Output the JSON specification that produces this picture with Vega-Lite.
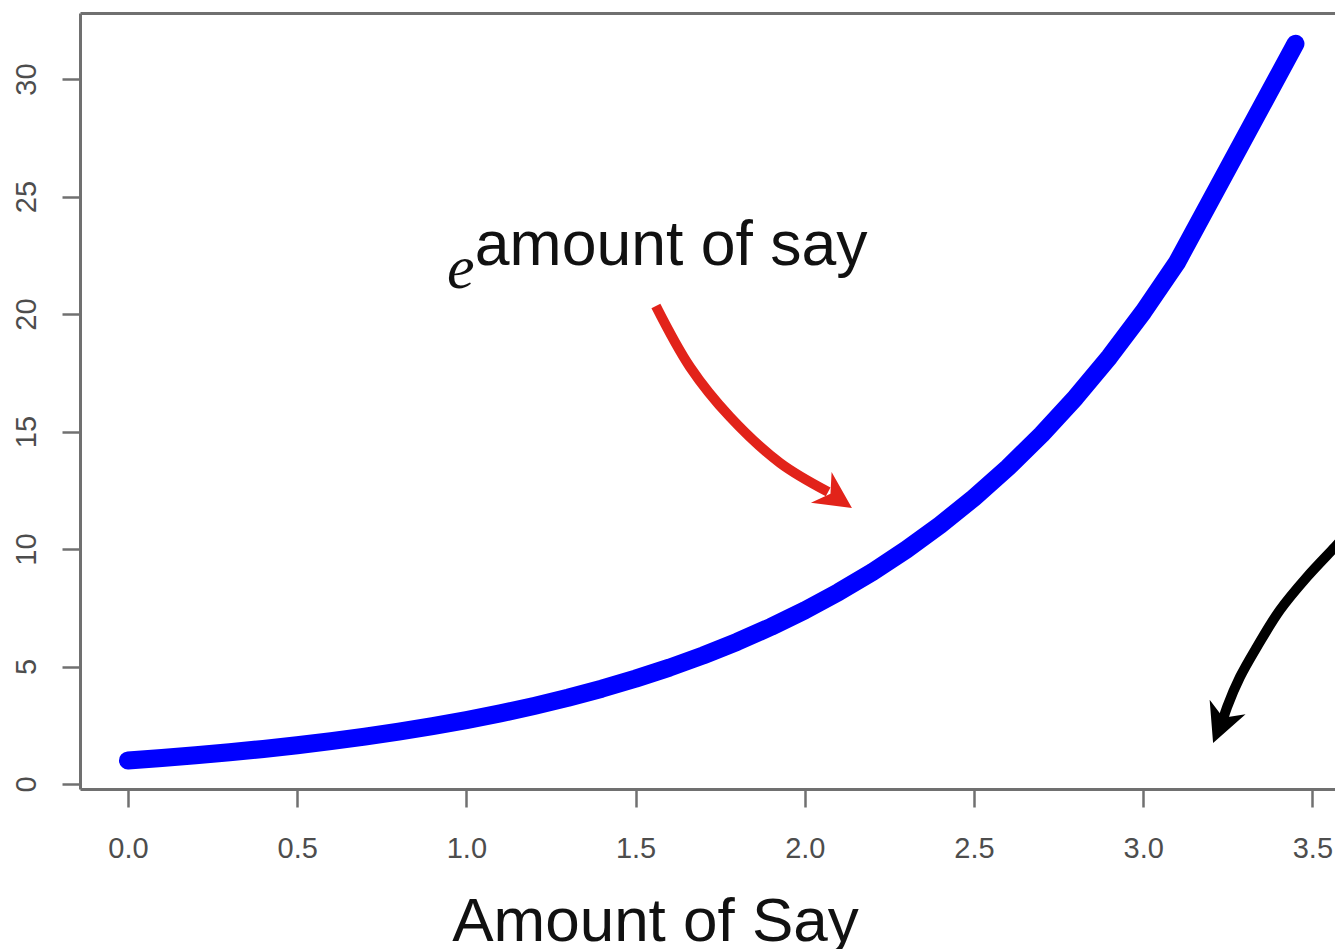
{
  "$schema": "https://vega.github.io/schema/vega-lite/v6.json",
  "width": 1255,
  "height": 776,
  "autosize": {"type": "none"},
  "padding": {"left": 80, "top": 13, "right": 0, "bottom": 160},
  "background": "white",
  "datasets": {
    "curve": [
      {"x": 0, "y": 1},
      {"x": 0.1, "y": 1.105},
      {"x": 0.2, "y": 1.221},
      {"x": 0.3, "y": 1.35},
      {"x": 0.4, "y": 1.492},
      {"x": 0.5, "y": 1.649},
      {"x": 0.6, "y": 1.822},
      {"x": 0.7, "y": 2.014},
      {"x": 0.8, "y": 2.226},
      {"x": 0.9, "y": 2.46},
      {"x": 1.0, "y": 2.718},
      {"x": 1.1, "y": 3.004},
      {"x": 1.2, "y": 3.32},
      {"x": 1.3, "y": 3.669},
      {"x": 1.4, "y": 4.055},
      {"x": 1.5, "y": 4.482},
      {"x": 1.6, "y": 4.953},
      {"x": 1.7, "y": 5.474},
      {"x": 1.8, "y": 6.05},
      {"x": 1.9, "y": 6.686},
      {"x": 2.0, "y": 7.389},
      {"x": 2.1, "y": 8.166},
      {"x": 2.2, "y": 9.025},
      {"x": 2.3, "y": 9.974},
      {"x": 2.4, "y": 11.023},
      {"x": 2.5, "y": 12.182},
      {"x": 2.6, "y": 13.464},
      {"x": 2.7, "y": 14.88},
      {"x": 2.8, "y": 16.445},
      {"x": 2.9, "y": 18.174},
      {"x": 3.0, "y": 20.086},
      {"x": 3.1, "y": 22.198},
      {"x": 3.45, "y": 31.5}
    ],
    "redArrow": [
      {"i": 0, "x": 1.56, "y": 20.34},
      {"i": 1, "x": 1.661, "y": 17.74},
      {"i": 2, "x": 1.779, "y": 15.62},
      {"i": 3, "x": 1.927, "y": 13.66},
      {"i": 4, "x": 2.069, "y": 12.43}
    ],
    "blackArrow": [
      {"i": 0, "x": 3.608, "y": 10.73},
      {"i": 1, "x": 3.567, "y": 10.09},
      {"i": 2, "x": 3.484, "y": 8.81},
      {"i": 3, "x": 3.404, "y": 7.4},
      {"i": 4, "x": 3.336, "y": 5.83},
      {"i": 5, "x": 3.286, "y": 4.55},
      {"i": 6, "x": 3.248, "y": 3.28},
      {"i": 7, "x": 3.236, "y": 2.75}
    ],
    "redHead": [{"x": 2.094, "y": 12.18}],
    "blackHead": [{"x": 3.228, "y": 2.51}],
    "annot": [{"x": 1.025, "y": 22.09, "label": "amount of say"}],
    "base": [{"x": 0.943, "y": 21.11, "label": "e"}]
  },
  "config": {
    "view": {"stroke": null},
    "axis": {
      "grid": false,
      "domainColor": "#707070",
      "domainWidth": 3,
      "tickColor": "#707070",
      "tickWidth": 2.5,
      "tickSize": 18,
      "labelFont": "Liberation Sans",
      "labelFontSize": 29,
      "labelColor": "#4d4d4d",
      "labelFlush": false,
      "labelOverlap": false,
      "labelBound": false
    }
  },
  "resolve": {"axis": {"x": "independent"}},
  "layer": [
    {
      "data": {"name": "curve"},
      "mark": {"type": "line", "color": "#0000ff", "strokeWidth": 18, "strokeCap": "round", "strokeJoin": "round"},
      "encoding": {
        "x": {
          "field": "x", "type": "quantitative",
          "scale": {"domain": [-0.1418, 3.5668], "nice": false, "zero": false},
          "axis": {
            "orient": "bottom",
            "values": [0, 0.5, 1, 1.5, 2, 2.5, 3, 3.5],
            "format": ".1f",
            "labelPadding": 27,
            "labelBaseline": "top",
            "title": "Amount of Say",
            "titleFont": "Liberation Sans",
            "titleFontSize": 62,
            "titleFontWeight": "normal",
            "titleColor": "#111111",
            "titleX": 575,
            "titleY": 151,
            "titleAlign": "center",
            "titleBaseline": "alphabetic"
          }
        },
        "y": {
          "field": "y", "type": "quantitative",
          "scale": {"domain": [-0.213, 32.81], "nice": false, "zero": false},
          "axis": {"values": [0, 5, 10, 15, 20, 25, 30], "labelAngle": -90, "labelAlign": "center", "labelBaseline": "alphabetic", "labelPadding": 27, "title": null}
        }
      }
    },
    {
      "data": {"name": "redArrow"},
      "mark": {"type": "line", "color": "#e2231a", "strokeWidth": 10, "strokeCap": "butt", "strokeJoin": "round", "interpolate": "catmull-rom"},
      "encoding": {
        "x": {
          "field": "x", "type": "quantitative",
          "scale": {"domain": [-0.1418, 3.5668], "nice": false, "zero": false},
          "axis": {"orient": "top", "ticks": false, "labels": false, "title": null, "domain": true}
        },
        "y": {
          "field": "y", "type": "quantitative",
          "scale": {"domain": [-0.213, 32.81], "nice": false, "zero": false},
          "axis": {"values": [0, 5, 10, 15, 20, 25, 30], "labelAngle": -90, "labelAlign": "center", "labelBaseline": "alphabetic", "labelPadding": 27, "title": null}
        },
        "order": {"field": "i", "type": "quantitative"}
      }
    },
    {
      "data": {"name": "blackArrow"},
      "mark": {"type": "line", "color": "#000000", "strokeWidth": 10, "strokeCap": "butt", "strokeJoin": "round", "interpolate": "catmull-rom"},
      "encoding": {
        "x": {"field": "x", "type": "quantitative", "scale": {"domain": [-0.1418, 3.5668], "nice": false, "zero": false}, "axis": null},
        "y": {
          "field": "y", "type": "quantitative",
          "scale": {"domain": [-0.213, 32.81], "nice": false, "zero": false},
          "axis": {"values": [0, 5, 10, 15, 20, 25, 30], "labelAngle": -90, "labelAlign": "center", "labelBaseline": "alphabetic", "labelPadding": 27, "title": null}
        },
        "order": {"field": "i", "type": "quantitative"}
      }
    },
    {
      "data": {"name": "redHead"},
      "mark": {"type": "point", "shape": "M1,0L-1,-1L-0.4,0L-1,1Z", "filled": true, "color": "#e2231a", "size": 1369, "angle": 34, "opacity": 1, "strokeWidth": 0},
      "encoding": {
        "x": {"field": "x", "type": "quantitative", "scale": {"domain": [-0.1418, 3.5668], "nice": false, "zero": false}, "axis": null},
        "y": {
          "field": "y", "type": "quantitative",
          "scale": {"domain": [-0.213, 32.81], "nice": false, "zero": false},
          "axis": {"values": [0, 5, 10, 15, 20, 25, 30], "labelAngle": -90, "labelAlign": "center", "labelBaseline": "alphabetic", "labelPadding": 27, "title": null}
        }
      }
    },
    {
      "data": {"name": "blackHead"},
      "mark": {"type": "point", "shape": "M1,0L-1,-1L-0.4,0L-1,1Z", "filled": true, "color": "#000000", "size": 1500, "angle": 112, "opacity": 1, "strokeWidth": 0},
      "encoding": {
        "x": {"field": "x", "type": "quantitative", "scale": {"domain": [-0.1418, 3.5668], "nice": false, "zero": false}, "axis": null},
        "y": {
          "field": "y", "type": "quantitative",
          "scale": {"domain": [-0.213, 32.81], "nice": false, "zero": false},
          "axis": {"values": [0, 5, 10, 15, 20, 25, 30], "labelAngle": -90, "labelAlign": "center", "labelBaseline": "alphabetic", "labelPadding": 27, "title": null}
        }
      }
    },
    {
      "data": {"name": "annot"},
      "mark": {"type": "text", "font": "Liberation Sans", "fontSize": 62.5, "color": "#111111", "align": "left", "baseline": "alphabetic"},
      "encoding": {
        "x": {"field": "x", "type": "quantitative", "scale": {"domain": [-0.1418, 3.5668], "nice": false, "zero": false}, "axis": null},
        "y": {
          "field": "y", "type": "quantitative",
          "scale": {"domain": [-0.213, 32.81], "nice": false, "zero": false},
          "axis": {"values": [0, 5, 10, 15, 20, 25, 30], "labelAngle": -90, "labelAlign": "center", "labelBaseline": "alphabetic", "labelPadding": 27, "title": null}
        },
        "text": {"field": "label", "type": "nominal"}
      }
    },
    {
      "data": {"name": "base"},
      "mark": {"type": "text", "font": "Liberation Serif", "fontStyle": "italic", "fontSize": 62, "color": "#111111", "align": "left", "baseline": "alphabetic"},
      "encoding": {
        "x": {"field": "x", "type": "quantitative", "scale": {"domain": [-0.1418, 3.5668], "nice": false, "zero": false}, "axis": null},
        "y": {
          "field": "y", "type": "quantitative",
          "scale": {"domain": [-0.213, 32.81], "nice": false, "zero": false},
          "axis": {"values": [0, 5, 10, 15, 20, 25, 30], "labelAngle": -90, "labelAlign": "center", "labelBaseline": "alphabetic", "labelPadding": 27, "title": null}
        },
        "text": {"field": "label", "type": "nominal"}
      }
    }
  ]
}
